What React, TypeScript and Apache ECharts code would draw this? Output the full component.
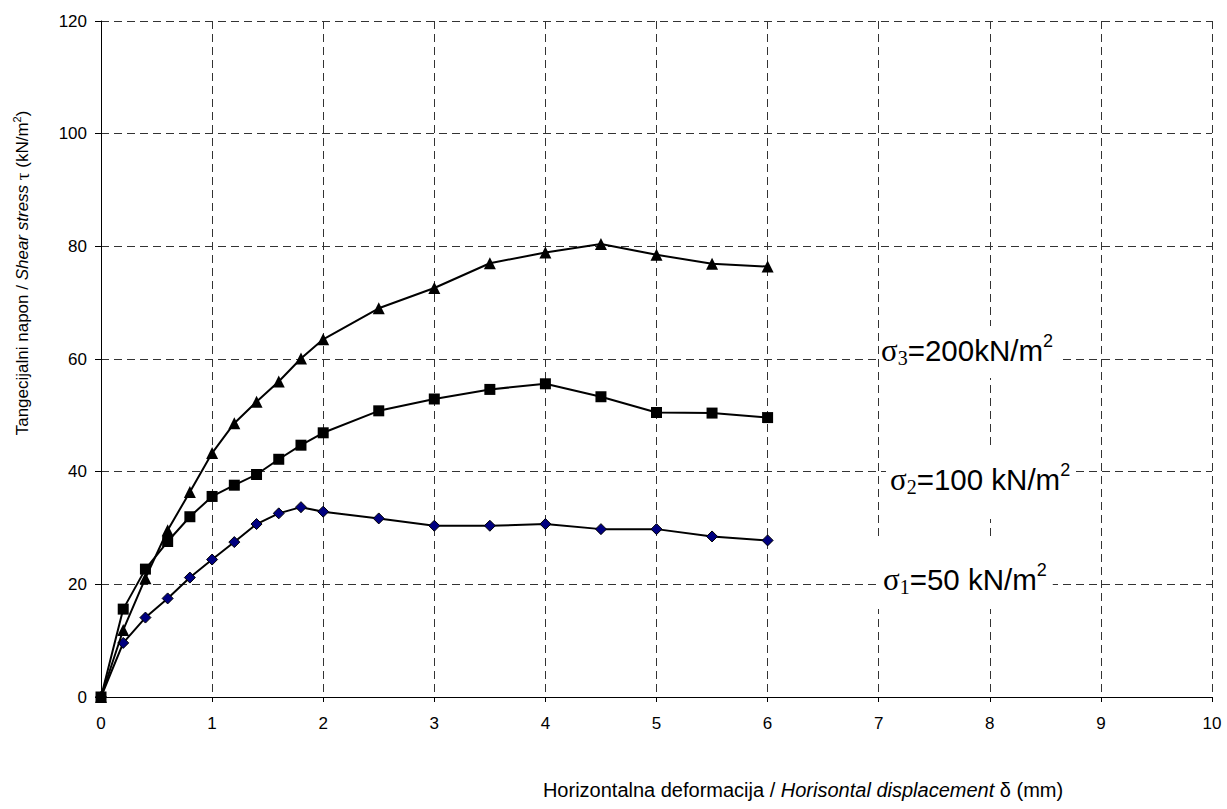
import React, { useEffect, useRef } from "react";
import * as echarts from "echarts";

const displacement = [0, 0.2, 0.4, 0.6, 0.8, 1, 1.2, 1.4, 1.6, 1.8, 2, 2.5, 3, 3.5, 4, 4.5, 5, 5.5, 6];
const sigma1 = [0, 9.6, 14.1, 17.5, 21.2, 24.4, 27.5, 30.7, 32.6, 33.7, 32.9, 31.7, 30.4, 30.4, 30.7, 29.8, 29.8, 28.5, 27.8];
const sigma2 = [0, 15.6, 22.7, 27.6, 32.0, 35.6, 37.6, 39.5, 42.2, 44.7, 46.9, 50.8, 52.9, 54.6, 55.6, 53.3, 50.5, 50.4, 49.6];
const sigma3 = [0, 11.9, 21.1, 29.6, 36.4, 43.3, 48.6, 52.4, 56.0, 60.1, 63.5, 69.0, 72.6, 77.0, 78.9, 80.4, 78.5, 76.9, 76.4];

const xTicks = { min: 0, max: 10, interval: 1 };
const yTicks = { min: 0, max: 120, interval: 20 };

const SANS = "'Liberation Sans', Arial, sans-serif";
const SERIF = "'Liberation Serif', 'Times New Roman', serif";

const pair = (ys: number[]) => displacement.map((x, i) => [x, ys[i]]);

const annRich = {
  g: { fontFamily: SERIF, fontSize: 31, lineHeight: 36, fill: "#000" },
  sub: { fontFamily: SERIF, fontSize: 20, lineHeight: 28, fill: "#000", verticalAlign: "bottom" },
  t: { fontFamily: SANS, fontSize: 29.5, lineHeight: 36, fill: "#000" },
  sup: { fontFamily: SANS, fontSize: 18, lineHeight: 20, fill: "#000", verticalAlign: "top" },
};

export default function App() {
  const ref = useRef<HTMLDivElement>(null);
  useEffect(() => {
    document.body.style.margin = "0";
    const chart = echarts.init(ref.current!, null, { renderer: "svg" });
    const gridLine = { show: true, lineStyle: { color: "#333", width: 1, type: [8, 5] } };
    chart.setOption({
      animation: false,
      backgroundColor: "#fff",
      grid: { left: 101, right: 15, top: 21, bottom: 112, containLabel: false },
      xAxis: {
        type: "value",
        min: xTicks.min,
        max: xTicks.max,
        interval: xTicks.interval,
        axisLine: { show: true, onZero: false, lineStyle: { color: "#000", width: 1 } },
        axisTick: { show: true, inside: false, length: 5, lineStyle: { color: "#000" } },
        axisLabel: { color: "#000", fontFamily: SANS, fontSize: 17, margin: 18 },
        splitLine: gridLine,
      },
      yAxis: {
        type: "value",
        min: yTicks.min,
        max: yTicks.max,
        interval: yTicks.interval,
        axisLine: { show: true, onZero: false, lineStyle: { color: "#000", width: 1 } },
        axisTick: { show: true, inside: false, length: 6, lineStyle: { color: "#000" } },
        axisLabel: { color: "#000", fontFamily: SANS, fontSize: 17, margin: 14 },
        splitLine: gridLine,
      },
      series: [
        {
          name: "σ1=50 kN/m2",
          type: "line",
          data: pair(sigma1),
          symbol: "diamond",
          symbolSize: 11,
          lineStyle: { color: "#000", width: 2 },
          itemStyle: { color: "#000080", borderColor: "#000", borderWidth: 1 },
          z: 3,
        },
        {
          name: "σ3=200kN/m2",
          type: "line",
          data: pair(sigma3),
          symbol: "triangle",
          symbolSize: 12,
          lineStyle: { color: "#000", width: 2 },
          itemStyle: { color: "#000", borderColor: "#000", borderWidth: 0 },
          z: 4,
        },
        {
          name: "σ2=100 kN/m2",
          type: "line",
          data: pair(sigma2),
          symbol: "rect",
          symbolSize: 11,
          lineStyle: { color: "#000", width: 2 },
          itemStyle: { color: "#000", borderColor: "#000", borderWidth: 0 },
          z: 5,
        },
      ],
      graphic: [
        {
          type: "text",
          x: 22,
          y: 273,
          rotation: Math.PI / 2,
          style: {
            text: "{a|Tangecijalni napon / }{i|Shear stress}{g| τ }{a|(kN/m}{s|2}{a|)}",
            align: "center",
            verticalAlign: "middle",
            rich: {
              a: { fontFamily: SANS, fontSize: 17, lineHeight: 22, fill: "#000" },
              i: { fontFamily: SANS, fontSize: 17, fontStyle: "italic", lineHeight: 22, fill: "#000" },
              g: { fontFamily: SERIF, fontSize: 19, lineHeight: 22, fill: "#000" },
              s: { fontFamily: SANS, fontSize: 11, lineHeight: 14, fill: "#000", verticalAlign: "top" },
            },
          },
        },
        {
          type: "text",
          x: 803,
          y: 790,
          style: {
            text: "{a|Horizontalna deformacija / }{i|Horisontal displacement}{a| δ (mm)}",
            align: "center",
            verticalAlign: "middle",
            rich: {
              a: { fontFamily: SANS, fontSize: 20, lineHeight: 24, fill: "#000" },
              i: { fontFamily: SANS, fontSize: 20, fontStyle: "italic", lineHeight: 24, fill: "#000" },
            },
          },
        },
        {
          type: "text",
          x: 879,
          y: 352,
          z: 100,
          style: {
            text: "{g|σ}{sub|3}{t|=200kN/m}{sup|2}",
            align: "left",
            verticalAlign: "middle",
            backgroundColor: "#fff",
            padding: [6, 5, 10, 2],
            rich: annRich,
          },
        },
        {
          type: "text",
          x: 886,
          y: 484,
          z: 100,
          style: {
            text: "{g|σ}{sub|2}{t|=100 kN/m}{sup|2}",
            align: "left",
            verticalAlign: "middle",
            backgroundColor: "#fff",
            padding: [12, 4, 22, 4],
            rich: annRich,
          },
        },
        {
          type: "text",
          x: 878,
          y: 575,
          z: 100,
          style: {
            text: "{g|σ}{sub|1}{t|=50 kN/m}{sup|2}",
            align: "left",
            verticalAlign: "middle",
            backgroundColor: "#fff",
            padding: [20, 6, 12, 5],
            rich: annRich,
          },
        },
      ],
    });
    return () => chart.dispose();
  }, []);
  return <div ref={ref} style={{ width: 1227, height: 809 }} />;
}
